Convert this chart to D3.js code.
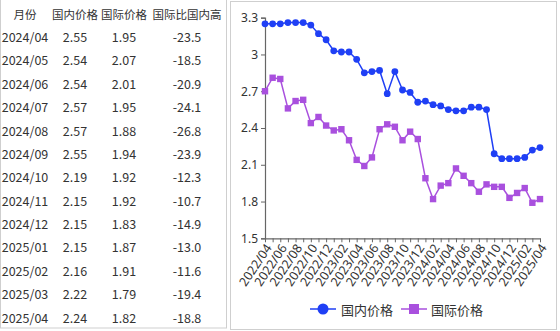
<!DOCTYPE html>
<html>
<head>
<meta charset="utf-8">
<script src="https://cdn.jsdelivr.net/npm/d3@7"></script>
<style>
  html, body { margin: 0; padding: 0; background: #fff; }
  svg { display: block; font-family: "Noto Sans CJK SC", "Noto Sans", sans-serif; }
</style>
</head>
<body>
<svg id="chart" width="560" height="331"></svg>
<script>
// Monthly prices, 2022/04 – 2025/04
const months = [
  "2022/04","2022/05","2022/06","2022/07","2022/08","2022/09","2022/10","2022/11","2022/12",
  "2023/01","2023/02","2023/03","2023/04","2023/05","2023/06","2023/07","2023/08","2023/09",
  "2023/10","2023/11","2023/12","2024/01","2024/02","2024/03","2024/04","2024/05","2024/06",
  "2024/07","2024/08","2024/09","2024/10","2024/11","2024/12","2025/01","2025/02","2025/03","2025/04"
];
const domestic = [
  3.25,3.25,3.25,3.26,3.26,3.26,3.24,3.17,3.12,
  3.03,3.02,3.02,2.96,2.85,2.86,2.87,2.68,2.86,
  2.71,2.69,2.61,2.62,2.59,2.58,2.55,2.54,2.54,
  2.57,2.57,2.55,2.19,2.15,2.15,2.15,2.16,2.22,2.24
];
const international = [
  2.70,2.81,2.80,2.56,2.62,2.63,2.44,2.49,2.42,
  2.38,2.39,2.30,2.14,2.09,2.16,2.39,2.43,2.41,
  2.30,2.37,2.31,1.99,1.82,1.93,1.95,2.07,2.01,
  1.95,1.88,1.94,1.92,1.92,1.83,1.87,1.91,1.79,1.82
];
const yTicks = [1.5, 1.8, 2.1, 2.4, 2.7, 3.0, 3.3];

// Table: last 13 months
const tableHeader = ["月份", "国内价格", "国际价格", "国际比国内高"];
const tableMonths = ["2024/04","2024/05","2024/06","2024/07","2024/08","2024/09","2024/10","2024/11","2024/12","2025/01","2025/02","2025/03","2025/04"];
const tableDomestic = ["2.55","2.54","2.54","2.57","2.57","2.55","2.19","2.15","2.15","2.15","2.16","2.22","2.24"];
const tableIntl = ["1.95","2.07","2.01","1.95","1.88","1.94","1.92","1.92","1.83","1.87","1.91","1.79","1.82"];
const tableDiff = ["-23.5","-18.5","-20.9","-24.1","-26.8","-23.9","-12.3","-10.7","-14.9","-13.0","-11.6","-19.4","-18.8"];

const svg = d3.select("#chart");

// ---- table panel ----
svg.append("rect").attr("x", 0.5).attr("y", -2).attr("width", 226).attr("height", 330)
  .attr("fill", "#fff").attr("stroke", "#cfcfcf");

const colX = [25, 75, 124, 187];
const tbl = svg.append("g").attr("fill", "#333");
tbl.selectAll("text.h").data(tableHeader).join("text")
  .attr("class", "h")
  .attr("x", (d, i) => colX[i]).attr("y", 14)
  .attr("text-anchor", "middle").attr("dominant-baseline", "central")
  .attr("font-size", 11.5).text(d => d);

const rows = tableMonths.map((m, i) => [m, tableDomestic[i], tableIntl[i], tableDiff[i]]);
const rowY = d3.scaleLinear().domain([0, 12]).range([36.5, 317]);
const rowG = tbl.selectAll("g.row").data(rows).join("g")
  .attr("class", "row")
  .attr("transform", (d, i) => `translate(0,${rowY(i)})`);
rowG.selectAll("text").data(d => d).join("text")
  .attr("x", (d, i) => colX[i]).attr("y", 0)
  .attr("text-anchor", "middle").attr("dominant-baseline", "central")
  .attr("font-size", 12.5).text(d => d);

// ---- chart panel ----
svg.append("rect").attr("x", 230.5).attr("y", 1.5).attr("width", 326).attr("height", 328)
  .attr("fill", "#fff").attr("stroke", "#cfcfcf");

const x = d3.scalePoint().domain(months).range([265, 540]).padding(0);
const y = d3.scaleLinear().domain([1.5, 3.3]).range([238.3, 17.7]);

const blue = "#1f3ff5";
const purple = "#a950de";

// y axis
const yAxis = svg.append("g").attr("transform", "translate(265,0)")
  .call(d3.axisLeft(y).tickValues(yTicks).tickSize(4).tickPadding(3)
    .tickFormat(d => d3.format("~g")(d)));
yAxis.select(".domain").attr("stroke", "#666").attr("stroke-width", 1.2);
yAxis.selectAll(".tick line").attr("stroke", "#666");
yAxis.selectAll("text").attr("fill", "#333").attr("font-size", 12)
  .attr("font-family", "Noto Sans, sans-serif");

// x axis
const xAxis = svg.append("g").attr("transform", "translate(0,238.3)")
  .call(d3.axisBottom(x).tickSize(4).tickSizeOuter(0)
    .tickFormat((d, i) => i % 2 === 0 ? d : ""));
xAxis.select(".domain").attr("stroke", "#666").attr("stroke-width", 1.2);
xAxis.selectAll(".tick line").attr("stroke", "#666");
xAxis.selectAll("text")
  .attr("fill", "#333").attr("font-size", 12.5)
  .attr("font-family", "Noto Sans, sans-serif")
  .attr("text-anchor", "end")
  .attr("dy", null).attr("y", 0)
  .attr("transform", "translate(3,7) rotate(-56)")
  .attr("dominant-baseline", "central");

// lines
const line = d3.line().x((d, i) => x(months[i])).y(d => y(d));

svg.append("path").datum(international)
  .attr("fill", "none").attr("stroke", purple).attr("stroke-width", 1.5)
  .attr("d", line);
svg.append("g").selectAll("rect").data(international).join("rect")
  .attr("x", (d, i) => x(months[i]) - 3.2).attr("y", d => y(d) - 3.2)
  .attr("width", 6.4).attr("height", 6.4).attr("fill", purple);

svg.append("path").datum(domestic)
  .attr("fill", "none").attr("stroke", blue).attr("stroke-width", 1.5)
  .attr("d", line);
svg.append("g").selectAll("circle").data(domestic).join("circle")
  .attr("cx", (d, i) => x(months[i])).attr("cy", d => y(d))
  .attr("r", 3.4).attr("fill", blue);

// legend
const legend = svg.append("g").attr("transform", "translate(0,309)");
const leg1 = legend.append("g");
leg1.append("line").attr("x1", 310).attr("x2", 336).attr("y1", 0).attr("y2", 0)
  .attr("stroke", blue).attr("stroke-width", 1.5);
leg1.append("circle").attr("cx", 323).attr("cy", 0).attr("r", 5.5).attr("fill", blue);
leg1.append("text").attr("x", 341).attr("y", 0).attr("dominant-baseline", "central")
  .attr("font-size", 13).attr("fill", "#333").text("国内价格");

const leg2 = legend.append("g");
leg2.append("line").attr("x1", 401).attr("x2", 427).attr("y1", 0).attr("y2", 0)
  .attr("stroke", purple).attr("stroke-width", 1.5);
leg2.append("rect").attr("x", 409).attr("y", -5).attr("width", 10).attr("height", 10).attr("fill", purple);
leg2.append("text").attr("x", 431).attr("y", 0).attr("dominant-baseline", "central")
  .attr("font-size", 13).attr("fill", "#333").text("国际价格");
</script>
</body>
</html>
